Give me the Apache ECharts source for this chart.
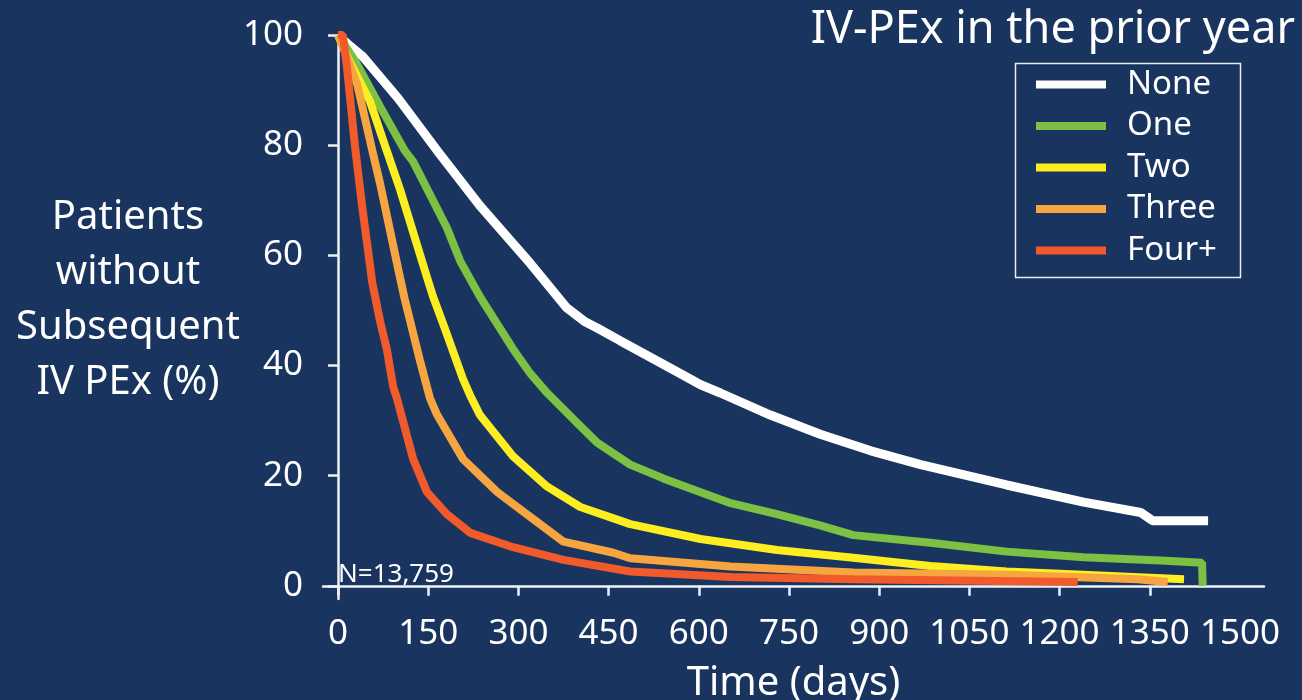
<!DOCTYPE html>
<html>
<head>
<meta charset="utf-8">
<title>IV-PEx in the prior year</title>
<script src="https://cdn.jsdelivr.net/npm/echarts@6/dist/echarts.min.js"></script>
<style>
    html, body { margin: 0; padding: 0; background: #19355f; }
    #chart { width: 1302px; height: 700px; }
</style>
</head>
<body>
<div id="chart"></div>
<script>
// Data: [days, % without subsequent IV PEx]
// ------------------------------

var groupNames = ['None', 'One', 'Two', 'Three', 'Four+'];
var groupColors = ['#ffffff', '#7cc143', '#fcee21', '#f7a540', '#f15a2b'];

var noneData = [
    [0, 100], [20, 98], [42, 96], [100, 88.5], [165, 79], [236, 69], [320, 58.5],
    [380, 50.5], [410, 48], [431, 46.8], [469, 44.5], [553, 39.5], [603, 36.5], [636, 35],
    [719, 31], [802, 27.5], [886, 24.5], [969, 22], [1112, 18.3], [1240, 15.2],
    [1335, 13.3], [1355, 11.8], [1447, 11.8]
];
var oneData = [
    [0, 100], [30, 95], [70, 87], [111, 79], [125, 77], [181, 65], [203, 59],
    [236, 52.5], [291, 43], [320, 38.5], [348, 35], [403, 29], [431, 26],
    [486, 22], [541, 19.5], [603, 17], [653, 15], [730, 13], [800, 11],
    [857, 9.2], [985, 7.8], [1112, 6.2], [1240, 5.2], [1368, 4.6], [1437, 4.2], [1438, 0]
];
var twoData = [
    [0, 100], [20, 95], [53, 88], [81, 79], [103, 72], [148, 56], [158, 52.5],
    [175, 47.5], [208, 37.5], [220, 34.5], [236, 31], [291, 23.5], [348, 18],
    [403, 14.3], [486, 11.2], [603, 8.5], [730, 6.5], [857, 5.1], [985, 3.6],
    [1112, 2.6], [1240, 2], [1407, 1.2]
];
var threeData = [
    [0, 100], [15, 96], [32, 91], [57, 79], [70, 73], [103, 56], [111, 52],
    [136, 41], [153, 34], [165, 31], [208, 23], [265, 17], [320, 12.5], [375, 8],
    [458, 6], [486, 5], [653, 3.5], [857, 2.4], [1112, 2], [1330, 1.2], [1380, 0.7]
];
var fourData = [
    [0, 100], [8, 100], [15, 94], [28, 80], [40, 69], [57, 55], [70, 48], [81, 43],
    [92, 36], [98, 34], [125, 23], [148, 17], [181, 13], [220, 9.6], [291, 7],
    [375, 4.7], [486, 2.6], [653, 1.6], [857, 1.2], [1230, 0.7]
];

var xTickLabels = [0, 150, 300, 450, 600, 750, 900, 1050, 1200, 1350, 1500];
var xTickMarks = [0, 150, 300, 450, 600, 750, 900, 1050, 1200, 1350];
var yTickLabels = [0, 20, 40, 60, 80, 100];

var allData = [noneData, oneData, twoData, threeData, fourData];


// Chart
// ------------------------------

var chartElement = document.getElementById('chart');
var chart = echarts.init(chartElement);

var fontFamily = '"Noto Sans", "Open Sans", sans-serif';

var series = groupNames.map(function(name, i) {
    return {
        name: name,
        type: 'line',
        data: allData[i],
        showSymbol: false,
        symbol: 'none',
        color: groupColors[i],
        lineStyle: {
            color: groupColors[i],
            width: i === 0 ? 9 : 8
        }
    };
});

var plainNumber = function(value) {
    return String(value);
};

var option = {
    backgroundColor: '#19355f',
    animation: false,
    textStyle: {
        fontFamily: fontFamily,
        color: '#ffffff'
    },

    title: {
        text: 'IV-PEx in the prior year',
        right: 2,
        top: 3,
        textStyle: {
            color: '#ffffff',
            fontSize: 45,
            fontWeight: 'normal',
            fontFamily: fontFamily
        }
    },

    legend: {
        orient: 'vertical',
        left: 1036,
        top: 68,
        padding: 0,
        itemGap: 8.5,
        itemWidth: 70,
        itemHeight: 8,
        icon: 'rect',
        data: groupNames,
        textStyle: {
            color: '#ffffff',
            fontSize: 33,
            lineHeight: 32,
            padding: [0, 0, 0, 16],
            fontFamily: fontFamily
        }
    },

    grid: {
        left: 323,
        right: 38,
        top: 35,
        bottom: 101,
        outerBoundsMode: 'none',
        containLabel: false
    },

    xAxis: {
        type: 'value',
        min: -25,
        max: 1540,
        name: 'Time (days)',
        nameLocation: 'middle',
        nameGap: 65,
        nameMoveOverlap: false,
        nameTextStyle: {
            color: '#ffffff',
            fontSize: 40
        },
        axisLine: {
            show: true,
            lineStyle: { color: '#eef2f7', width: 2.5 }
        },
        axisTick: {
            show: true,
            length: 10,
            customValues: xTickMarks,
            lineStyle: { color: '#eef2f7', width: 2.5 }
        },
        axisLabel: {
            customValues: xTickLabels,
            formatter: plainNumber,
            color: '#ffffff',
            fontSize: 35,
            margin: 18
        },
        splitLine: { show: false }
    },

    yAxis: {
        type: 'value',
        min: -2.4,
        max: 100,
        axisLine: {
            show: true,
            lineStyle: { color: '#eef2f7', width: 2.5 }
        },
        axisTick: {
            show: true,
            length: 10,
            customValues: yTickLabels,
            lineStyle: { color: '#eef2f7', width: 2.5 }
        },
        axisLabel: {
            customValues: yTickLabels,
            formatter: plainNumber,
            color: '#ffffff',
            fontSize: 35,
            margin: 20
        },
        splitLine: { show: false }
    },

    graphic: [
        {
            type: 'rect',
            left: 1013,
            top: 61,
            shape: { width: 225, height: 214 },
            style: { fill: 'none', stroke: '#e8edf4', lineWidth: 1.5 },
            silent: true
        },
        {
            type: 'text',
            x: 128,
            y: 190,
            style: {
                text: 'Patients\nwithout\nSubsequent\nIV PEx (%)',
                textAlign: 'center',
                fill: '#ffffff',
                fontSize: 40,
                lineHeight: 55,
                fontFamily: fontFamily
            },
            silent: true
        },
        {
            type: 'text',
            left: 338,
            top: 562,
            style: {
                text: 'N=13,759',
                fill: '#ffffff',
                fontSize: 26,
                fontFamily: fontFamily
            },
            silent: true
        }
    ],

    series: series
};

chart.setOption(option);
</script>
</body>
</html>
